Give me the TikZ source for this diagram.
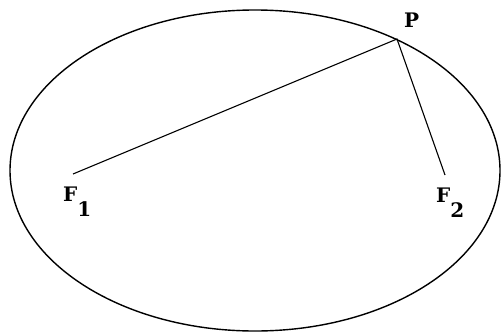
\documentclass[tikz,border=0pt]{standalone}
\usepackage{fontspec}
\setmainfont{DejaVu Serif}
\begin{document}
\begin{tikzpicture}[x=1pt,y=-1pt,
  curve/.style={draw=black,line width=1.4pt},
  seg/.style={draw=black,line width=1.1pt},
  lab/.style={font=\fontsize{20}{20}\selectfont\bfseries,inner sep=0pt,anchor=base west}]
\useasboundingbox (0,0) rectangle (502,332);
\draw[curve] (255,170.5) ellipse [x radius=245, y radius=160.5];
\coordinate (P) at (397,39);
\coordinate (F1) at (73,174);
\coordinate (F2) at (445,175);
\draw[seg] (F1) -- (P) -- (F2);
\node[lab] (lP) at (404,27) {P};
\node[lab] (lF1) at (63,201) {F\raisebox{-15pt}{1}};
\node[lab] (lF2) at (436,202) {F\raisebox{-15pt}{2}};
\end{tikzpicture}
\end{document}
